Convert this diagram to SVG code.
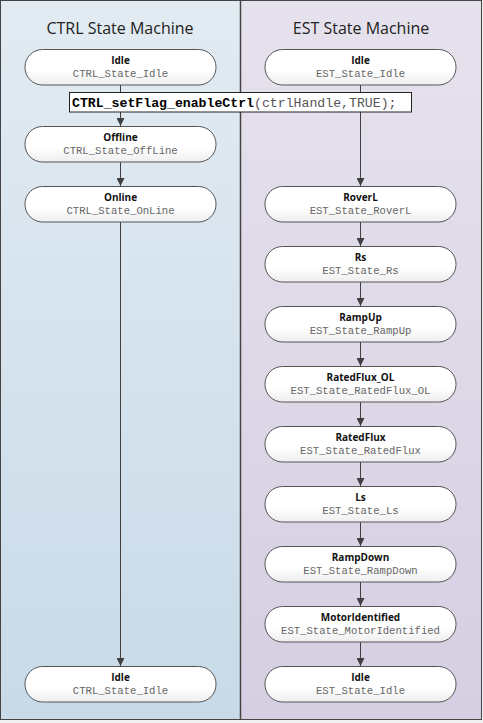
<svg xmlns="http://www.w3.org/2000/svg" width="483" height="723" viewBox="0 0 483 723">
<defs>
<linearGradient id="gl" x1="0" y1="0" x2="0" y2="1"><stop offset="0" stop-color="#e2ebf2"/><stop offset="1" stop-color="#c8dae8"/></linearGradient>
<linearGradient id="gr" x1="0" y1="0" x2="0" y2="1"><stop offset="0" stop-color="#e6e2ed"/><stop offset="1" stop-color="#d6cee2"/></linearGradient>
<linearGradient id="gn" x1="0" y1="0" x2="0" y2="1"><stop offset="0" stop-color="#ffffff"/><stop offset="0.6" stop-color="#ffffff"/><stop offset="1" stop-color="#eeeeee"/></linearGradient>
<marker id="ah" viewBox="0 0 10 10" refX="10" refY="5" markerWidth="8" markerHeight="8" markerUnits="userSpaceOnUse" orient="auto"><path d="M0,0 L10,5 L0,10 Z" fill="#404040"/></marker>
<style>
.node rect{fill:url(#gn);stroke:#555;stroke-width:1}
.t{font-family:"Open Sans","DejaVu Sans",sans-serif;font-weight:bold;font-size:10px;fill:#111;text-anchor:middle}
.m{font-family:"Liberation Mono","Courier New",monospace;font-size:10.6px;fill:#666;text-anchor:middle}
.h{font-family:"Open Sans","DejaVu Sans",sans-serif;font-size:16px;fill:#222;text-anchor:middle}
.c line{stroke:#404040;stroke-width:1;marker-end:url(#ah)}
</style>
</defs>
<rect x="0" y="0" width="483" height="723" fill="#f0f0f0"/>
<rect x="0.5" y="0.5" width="240" height="719" fill="url(#gl)"/>
<rect x="240.5" y="0.5" width="241" height="719" fill="url(#gr)"/>
<rect x="0.5" y="0.5" width="481" height="719" fill="none" stroke="#444" stroke-width="1"/>
<line x1="240.5" y1="0" x2="240.5" y2="720" stroke="#444" stroke-width="1.5"/>
<text class="h" x="120" y="34">CTRL State Machine</text>
<text class="h" x="361" y="34">EST State Machine</text>
<g id="connectors" class="c">
<line x1="120.5" y1="85" x2="120.5" y2="126"/>
<line x1="120.5" y1="162" x2="120.5" y2="186"/>
<line x1="120.5" y1="222" x2="120.5" y2="666"/>
<line x1="360.5" y1="85" x2="360.5" y2="186"/>
<line x1="360.5" y1="222" x2="360.5" y2="246"/>
<line x1="360.5" y1="282" x2="360.5" y2="306"/>
<line x1="360.5" y1="342" x2="360.5" y2="366"/>
<line x1="360.5" y1="402" x2="360.5" y2="426"/>
<line x1="360.5" y1="462" x2="360.5" y2="486"/>
<line x1="360.5" y1="522" x2="360.5" y2="546"/>
<line x1="360.5" y1="582" x2="360.5" y2="606"/>
<line x1="360.5" y1="642" x2="360.5" y2="666"/>
</g>
<g id="ctrl-idle" class="node"><rect x="25" y="49.5" width="191" height="35.5" rx="17.5"/><text class="t" x="120.5" y="63.5">Idle</text><text class="m" x="120.5" y="76.5">CTRL_State_Idle</text></g>
<g id="ctrl-offline" class="node"><rect x="25" y="126.5" width="191" height="35.5" rx="17.5"/><text class="t" x="120.5" y="140.5">Offline</text><text class="m" x="120.5" y="153.5">CTRL_State_OffLine</text></g>
<g id="ctrl-online" class="node"><rect x="25" y="186.5" width="191" height="35.5" rx="17.5"/><text class="t" x="120.5" y="200.5">Online</text><text class="m" x="120.5" y="213.5">CTRL_State_OnLine</text></g>
<g id="ctrl-idle2" class="node"><rect x="25" y="666.5" width="191" height="35.5" rx="17.5"/><text class="t" x="120.5" y="680.5">Idle</text><text class="m" x="120.5" y="693.5">CTRL_State_Idle</text></g>
<g id="est-idle" class="node"><rect x="265" y="49.5" width="191" height="35.5" rx="17.5"/><text class="t" x="360.5" y="63.5">Idle</text><text class="m" x="360.5" y="76.5">EST_State_Idle</text></g>
<g id="est-roverl" class="node"><rect x="265" y="186.5" width="191" height="35.5" rx="17.5"/><text class="t" x="360.5" y="200.5">RoverL</text><text class="m" x="360.5" y="213.5">EST_State_RoverL</text></g>
<g id="est-rs" class="node"><rect x="265" y="246.5" width="191" height="35.5" rx="17.5"/><text class="t" x="360.5" y="260.5">Rs</text><text class="m" x="360.5" y="273.5">EST_State_Rs</text></g>
<g id="est-rampup" class="node"><rect x="265" y="306.5" width="191" height="35.5" rx="17.5"/><text class="t" x="360.5" y="320.5">RampUp</text><text class="m" x="360.5" y="333.5">EST_State_RampUp</text></g>
<g id="est-ratedflux-ol" class="node"><rect x="265" y="366.5" width="191" height="35.5" rx="17.5"/><text class="t" x="360.5" y="380.5">RatedFlux_OL</text><text class="m" x="360.5" y="393.5">EST_State_RatedFlux_OL</text></g>
<g id="est-ratedflux" class="node"><rect x="265" y="426.5" width="191" height="35.5" rx="17.5"/><text class="t" x="360.5" y="440.5">RatedFlux</text><text class="m" x="360.5" y="453.5">EST_State_RatedFlux</text></g>
<g id="est-ls" class="node"><rect x="265" y="486.5" width="191" height="35.5" rx="17.5"/><text class="t" x="360.5" y="500.5">Ls</text><text class="m" x="360.5" y="513.5">EST_State_Ls</text></g>
<g id="est-rampdown" class="node"><rect x="265" y="546.5" width="191" height="35.5" rx="17.5"/><text class="t" x="360.5" y="560.5">RampDown</text><text class="m" x="360.5" y="573.5">EST_State_RampDown</text></g>
<g id="est-motoridentified" class="node"><rect x="265" y="606.5" width="191" height="35.5" rx="17.5"/><text class="t" x="360.5" y="620.5">MotorIdentified</text><text class="m" x="360.5" y="633.5">EST_State_MotorIdentified</text></g>
<g id="est-idle2" class="node"><rect x="265" y="666.5" width="191" height="35.5" rx="17.5"/><text class="t" x="360.5" y="680.5">Idle</text><text class="m" x="360.5" y="693.5">EST_State_Idle</text></g>
<g id="code-label">
<rect x="69.5" y="92.5" width="342" height="19.5" fill="#ffffff" stroke="#222" stroke-width="1"/>
<text x="72" y="107" font-family="Liberation Mono,'Courier New',monospace" font-size="13.2px" fill="#000"><tspan font-weight="bold">CTRL_setFlag_enableCtrl</tspan><tspan fill="#555">(ctrlHandle,TRUE);</tspan></text>
</g>
</svg>
